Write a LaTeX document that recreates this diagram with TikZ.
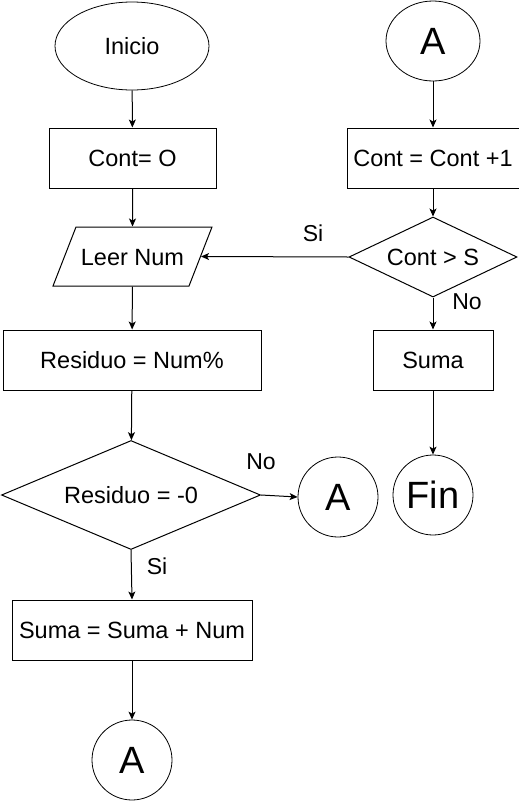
\documentclass[tikz,border=0pt]{standalone}
\usepackage{fontspec}
\setmainfont{Liberation Sans}
\usetikzlibrary{shapes.geometric, arrows.meta}

\begin{document}
\begin{tikzpicture}[
  x=1pt, y=-1pt, line width=1pt,
  txt/.style={font=\fontsize{23.5}{28}\selectfont},
  big/.style={font=\fontsize{38}{44}\selectfont},
  procbox/.style={draw, rectangle, minimum height=60pt, inner sep=0pt, txt},
  termnode/.style={draw, ellipse, inner sep=0pt, line width=0.8pt},
  conn/.style={draw, circle, minimum size=80pt, inner sep=0pt, line width=0.8pt, big},
  decis/.style={draw, diamond, inner sep=0pt, txt},
  ionode/.style={draw, trapezium, trapezium left angle=68.7, trapezium right angle=111.3,
    trapezium stretches body=true, text height=17pt, text depth=0pt,
    inner xsep=0pt, inner ysep=21pt, minimum width=159pt, txt},
  lbl/.style={font=\fontsize{23}{27}\selectfont},
  flow/.style={-{Stealth[length=8pt, width=7pt, inset=2pt]}}
]
  \useasboundingbox (0,0) rectangle (519,801);

  % left column
  \node[termnode, minimum width=154pt, minimum height=88pt, txt] (inicio) at (132,46) {Inicio};
  \node[procbox, minimum width=167pt] (cont0) at (132.5,158) {Cont= O};
  \node[ionode] (leer) at (132.5,256.5) {Leer Num};
  \node[procbox, minimum width=258pt] (resid) at (132,360) {Residuo = Num\%};
  \node[decis, minimum width=259pt, minimum height=109pt, aspect=2.4] (dresid) at (131,495) {Residuo = -0};
  \node[conn] (aMid) at (338,497) {A};
  \node[procbox, minimum width=240pt] (sumaNum) at (132,630) {Suma = Suma + Num};
  \node[conn] (aBot) at (132,760) {A};

  % right column
  \node[termnode, minimum width=94pt, minimum height=80pt, big] (aTop) at (433,41) {A};
  \node[procbox, minimum width=172pt] (contInc) at (433,158) {Cont = Cont +1};
  \node[decis, minimum width=168pt, minimum height=80pt, aspect=2.1] (dcont) at (433,257) {Cont > S};
  \node[procbox, minimum width=120pt] (suma) at (433,360) {Suma};
  \node[conn] (fin) at (433,495) {Fin};

  % labels
  \node[lbl] (siLeer) at (313,233) {Si};
  \node[lbl] (noSuma) at (467,302) {No};
  \node[lbl] (noA) at (261,462) {No};
  \node[lbl] (siSuma) at (157,566) {Si};

  % connectors
  \draw[flow] (inicio) -- (cont0);
  \draw[flow] (cont0) -- (leer);
  \draw[flow] (leer) -- (resid);
  \draw[flow] (resid) -- (dresid);
  \draw[flow] (dresid.east) -- (aMid.west);
  \draw[flow] (dresid.south) -- (sumaNum.north);
  \draw[flow] (sumaNum) -- (aBot);
  \draw[flow] (aTop) -- (contInc);
  \draw[flow] (contInc) -- (dcont);
  \draw[flow] (dcont.west) -- (leer.east);
  \draw[flow] (dcont.south) -- (suma.north);
  \draw[flow] (suma) -- (fin);
\end{tikzpicture}
\end{document}
